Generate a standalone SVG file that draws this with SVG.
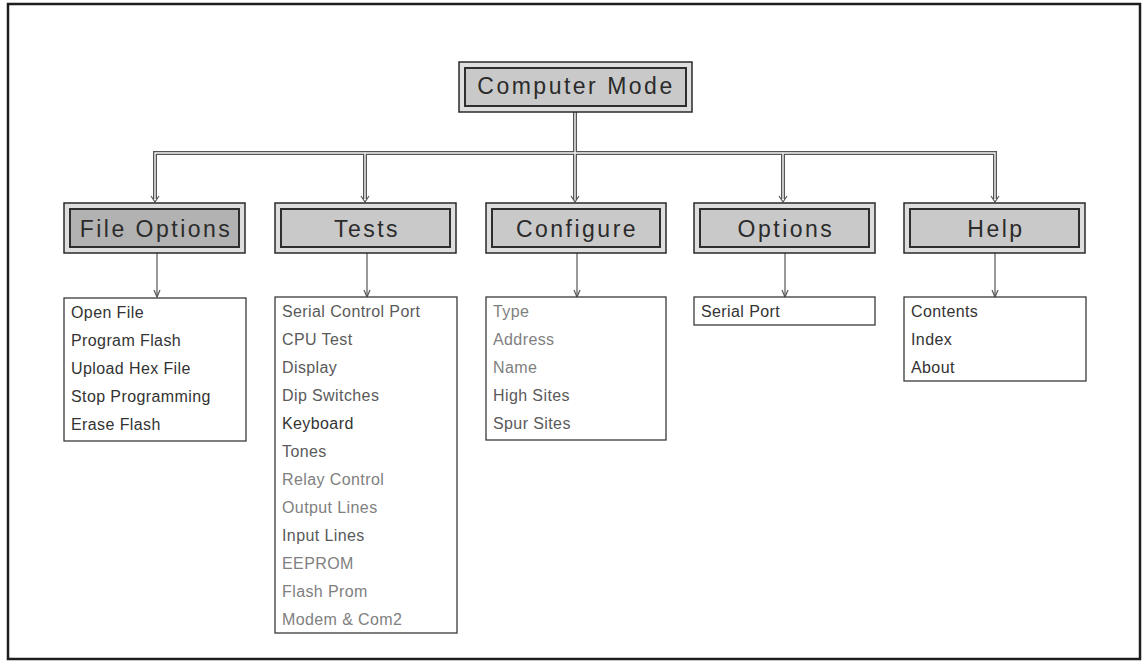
<svg xmlns="http://www.w3.org/2000/svg" width="1144" height="667" viewBox="0 0 1144 667">
  <style>
    .frame { fill: #ffffff; stroke: #1e1e1e; stroke-width: 2.5; }
    .hdr-outer { fill: #dedede; stroke: #2a2a2a; stroke-width: 1.5; }
    .hdr-inner { fill: #c9c9c9; stroke: #2e2e2e; stroke-width: 2; }
    .hdr-inner.dark { fill: #b2b2b2; }
    .hdr-text { font-family: "Liberation Sans", Arial, sans-serif; font-size: 23px; letter-spacing: 2.5px; fill: #2b2b2b; text-anchor: middle; }
    .list-box { fill: #ffffff; stroke: #3a3a3a; stroke-width: 1.3; }
    .item { font-family: "Liberation Sans", Arial, sans-serif; font-size: 16px; letter-spacing: 0.4px; fill: #333333; }
    .item.faint { fill: #808080; }
    .item.mid { fill: #5a5a5a; }
    .dbl-outer { fill: none; stroke: #555555; stroke-width: 4; }
    .dbl-inner { fill: none; stroke: #f4f4f4; stroke-width: 1.4; }
    .thin { fill: none; stroke: #555555; stroke-width: 1.2; marker-end: url(#tip); }
  </style>
  <defs>
    <marker id="tip" viewBox="0 0 8 8" refX="7" refY="4" markerWidth="8" markerHeight="8" markerUnits="userSpaceOnUse" orient="auto">
      <path d="M0,1 L7,4 L0,7" fill="none" stroke="#555555" stroke-width="1.2"/>
    </marker>
  </defs>

  <!-- page frame -->
  <rect class="frame" x="8" y="4" width="1132" height="655"/>

  <!-- connectors -->
  <g id="connectors">
    <!-- trunk and branch bus (double rule) -->
    <path class="dbl-outer" d="M575,112 V200 M155,199 V153 H995 V199 M365,153 V199 M783,153 V199"/>
    <path class="dbl-inner" d="M575,112 V200 M155,199 V153 H995 V199 M365,153 V199 M783,153 V199"/>
    <!-- small heads on the bus drops -->
    <path d="M151,196 L155,202 L159,196 M361,196 L365,202 L369,196 M571,196 L575,202 L579,196 M779,196 L783,202 L787,196 M991,196 L995,202 L999,196" fill="none" stroke="#555555" stroke-width="1.2"/>
    <!-- menu to item list -->
    <line class="thin" x1="157" y1="253" x2="157" y2="297"/>
    <line class="thin" x1="367" y1="253" x2="367" y2="297"/>
    <line class="thin" x1="577" y1="253" x2="577" y2="297"/>
    <line class="thin" x1="785" y1="253" x2="785" y2="297"/>
    <line class="thin" x1="995" y1="253" x2="995" y2="297"/>
  </g>

  <!-- root -->
  <g id="computer-mode">
    <rect class="hdr-outer" x="459" y="62" width="233" height="50"/>
    <rect class="hdr-inner" x="465" y="68" width="221" height="38"/>
    <text class="hdr-text" x="576" y="94">Computer Mode</text>
  </g>

  <!-- menus -->
  <g id="file-options">
    <rect class="hdr-outer" x="64" y="203" width="181" height="50"/>
    <rect class="hdr-inner dark" x="70" y="209" width="169" height="38"/>
    <text class="hdr-text" x="156" y="237">File Options</text>
  </g>
  <g id="tests">
    <rect class="hdr-outer" x="275" y="203" width="181" height="50"/>
    <rect class="hdr-inner" x="281" y="209" width="169" height="38"/>
    <text class="hdr-text" x="367" y="237">Tests</text>
  </g>
  <g id="configure">
    <rect class="hdr-outer" x="486" y="203" width="180" height="50"/>
    <rect class="hdr-inner" x="492" y="209" width="168" height="38"/>
    <text class="hdr-text" x="577" y="237">Configure</text>
  </g>
  <g id="options">
    <rect class="hdr-outer" x="694" y="203" width="181" height="50"/>
    <rect class="hdr-inner" x="700" y="209" width="169" height="38"/>
    <text class="hdr-text" x="786" y="237">Options</text>
  </g>
  <g id="help">
    <rect class="hdr-outer" x="904" y="203" width="181" height="50"/>
    <rect class="hdr-inner" x="910" y="209" width="169" height="38"/>
    <text class="hdr-text" x="996" y="237">Help</text>
  </g>

  <!-- item lists -->
  <g id="file-options-items">
    <rect class="list-box" x="64" y="298" width="182" height="143"/>
    <text class="item" x="71" y="318">Open File</text>
    <text class="item" x="71" y="346">Program Flash</text>
    <text class="item" x="71" y="374">Upload Hex File</text>
    <text class="item" x="71" y="402">Stop Programming</text>
    <text class="item" x="71" y="430">Erase Flash</text>
  </g>
  <g id="tests-items">
    <rect class="list-box" x="275" y="297" width="182" height="336"/>
    <text class="item mid" x="282" y="317">Serial Control Port</text>
    <text class="item mid" x="282" y="345">CPU Test</text>
    <text class="item mid" x="282" y="373">Display</text>
    <text class="item mid" x="282" y="401">Dip Switches</text>
    <text class="item" x="282" y="429">Keyboard</text>
    <text class="item mid" x="282" y="457">Tones</text>
    <text class="item faint" x="282" y="485">Relay Control</text>
    <text class="item faint" x="282" y="513">Output Lines</text>
    <text class="item mid" x="282" y="541">Input Lines</text>
    <text class="item faint" x="282" y="569">EEPROM</text>
    <text class="item faint" x="282" y="597">Flash Prom</text>
    <text class="item faint" x="282" y="625">Modem &amp; Com2</text>
  </g>
  <g id="configure-items">
    <rect class="list-box" x="486" y="297" width="180" height="143"/>
    <text class="item faint" x="493" y="317">Type</text>
    <text class="item faint" x="493" y="345">Address</text>
    <text class="item faint" x="493" y="373">Name</text>
    <text class="item mid" x="493" y="401">High Sites</text>
    <text class="item mid" x="493" y="429">Spur Sites</text>
  </g>
  <g id="options-items">
    <rect class="list-box" x="694" y="297" width="181" height="28"/>
    <text class="item" x="701" y="317">Serial Port</text>
  </g>
  <g id="help-items">
    <rect class="list-box" x="904" y="297" width="182" height="84"/>
    <text class="item" x="911" y="317">Contents</text>
    <text class="item" x="911" y="345">Index</text>
    <text class="item" x="911" y="373">About</text>
  </g>
</svg>
